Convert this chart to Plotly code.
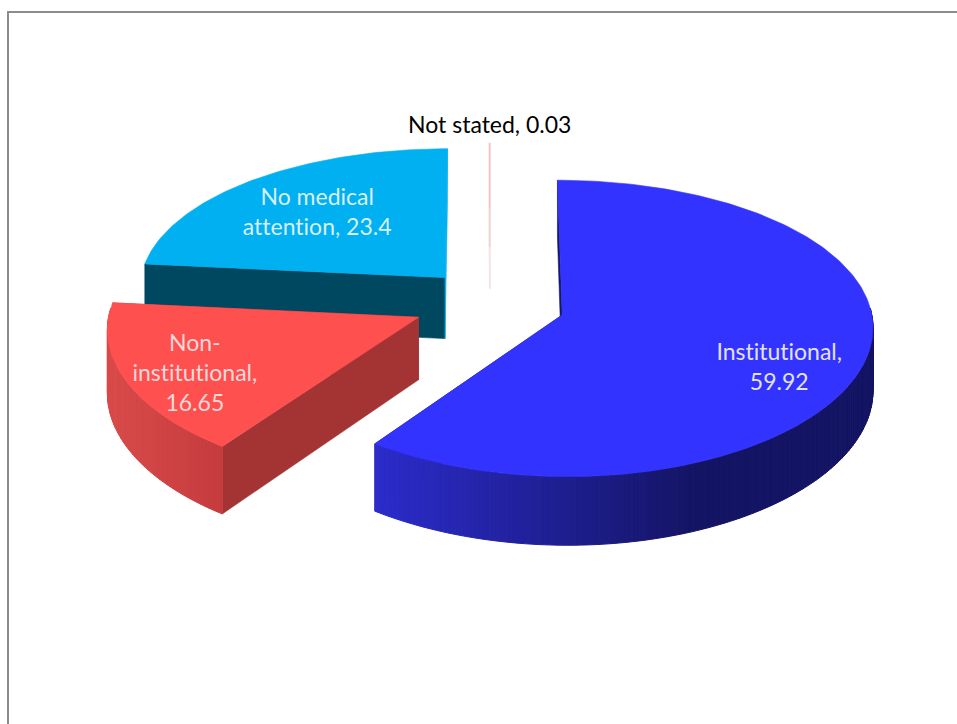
import math
import plotly.graph_objects as go

# ---- data ----
categories = ["Institutional", "Non-institutional", "No medical attention", "Not stated"]
values = [59.92, 16.65, 23.4, 0.03]
explode_x = [0.245, 0.253, 0.22, 0.225]
explode_y = [0.245, 0.22, 0.25, 0.235]
label_text = ["Institutional,<br>59.92", "Non-<br>institutional,<br>16.65",
              "No medical<br>attention, 23.4", "Not stated, 0.03"]

# ---- styling ----
label_xy = [(779, 366), (195, 372), (317, 211), (489, 124)]
label_colors = ["#E2E2FA", "#FBD8D8", "#D8EFF9", "#000000"]
face_colors = ["#3333FF", "#FF5050", "#00B0F0", "#F4C4C4"]
cut_colors = ["#16166A", "#A43434", "#00485F", "#EFE2E2"]
wall_left = [(44, 44, 205), (216, 74, 74), (0, 72, 96), (240, 226, 226)]
wall_right = [(20, 20, 100), (198, 60, 62), (0, 72, 96), (240, 226, 226)]
wall_span = [(373, 700), (115, 218), (150, 300), (0, 1)]

CX, CY, A, B, KX, KY, H = 490, 304, 308, 145, 0.07, 0.09, 62


def project(x, v, drop=0.0):
    wx = 1 / (1 - KX * v)
    wy = 1 / (1 - KY * v)
    return CX + A * x * wx, CY + B * v * wy + drop * wy


def world(theta, radius, mid, ex, ey):
    return (radius * math.sin(theta) + ex * math.sin(mid),
            -radius * math.cos(theta) - ey * math.cos(mid))


def poly(fig, pts, color, width=0.6):
    xs = [p[0] for p in pts]
    ys = [p[1] for p in pts]
    fig.add_trace(go.Scatter(x=xs + xs[:1], y=ys + ys[:1], mode="lines", fill="toself",
                             fillcolor=color, line=dict(color=color, width=width),
                             hoverinfo="skip", showlegend=False))


def mix(c0, c1, t):
    t = min(1, max(0, t))
    return "rgb(%d,%d,%d)" % tuple(round(a + (b - a) * t) for a, b in zip(c0, c1))


total = sum(values)
spans = []
angle = 0.0
for val in values:
    sweep = 2 * math.pi * val / total
    spans.append((angle, angle + sweep))
    angle += sweep

fig = go.Figure()
for idx in [2, 3, 1, 0]:
    t0, t1 = spans[idx]
    mid = (t0 + t1) / 2
    ex, ey = explode_x[idx], explode_y[idx]
    n = max(2, int((t1 - t0) / math.radians(1)))
    thetas = [t0 + (t1 - t0) * i / n for i in range(n + 1)]
    apex = world(0, 0, mid, ex, ey)
    rim = [world(th, 1, mid, ex, ey) for th in thetas]

    if idx == 3:
        top = project(*rim[n // 2])
        ap = project(*apex)
        low = project(*apex, drop=H * 0.3)
        mid1 = (top[0], top[1] + (ap[1] - top[1]) * 0.52)
        mid2 = (top[0], top[1] + (ap[1] - top[1]) * 0.82)
        for a_, b_, c_ in [(top, mid1, "#F4C4C4"), (mid1, mid2, "#EFD2D2"), (mid2, low, "#F2E4E4")]:
            fig.add_trace(go.Scatter(x=[a_[0], b_[0]], y=[a_[1], b_[1]], mode="lines",
                                     line=dict(color=c_, width=2), hoverinfo="skip",
                                     showlegend=False))
        continue

    # cut walls
    for end in (rim[0], rim[-1]):
        poly(fig, [project(*apex), project(*end), project(*end, drop=H), project(*apex, drop=H)],
             cut_colors[idx] if not (idx == 2 and end is rim[-1]) else face_colors[idx])
    # outer wall strips (only the side that faces the viewer)
    for i in range(n):
        if -math.cos(thetas[i]) < -0.05:
            continue
        a_, b_ = rim[i], rim[i + 1]
        sx = project(*a_)[0]
        lo, hi = wall_span[idx]
        poly(fig, [project(*a_), project(*b_), project(*b_, drop=H), project(*a_, drop=H)],
             mix(wall_left[idx], wall_right[idx], (sx - lo) / (hi - lo)), width=1)
    # top face
    poly(fig, [project(*apex)] + [project(*p) for p in rim], face_colors[idx])

annotations = [dict(x=x, y=y, text=t, showarrow=False, xref="x", yref="y",
                    font=dict(family="Lato, Carlito, sans-serif", size=23, color=c), align="center")
               for (x, y), t, c in zip(label_xy, label_text, label_colors)]

fig.update_layout(
    width=957, height=724, margin=dict(l=0, r=0, t=0, b=0),
    paper_bgcolor="white", plot_bgcolor="white", showlegend=False,
    xaxis=dict(range=[0, 957], visible=False, fixedrange=True),
    yaxis=dict(range=[724, 0], visible=False, fixedrange=True),
    annotations=annotations,
    shapes=[dict(type="path", path="M 8,724 L 8,12 L 957,12", xref="x", yref="y",
                 line=dict(color="#8C8C8C", width=2))],
)
fig.write_html("out.html", config={"displayModeBar": False},
               post_script="document.body.style.margin='0';document.body.style.overflow='hidden';"
                           "var s=document.createElement('style');"
                           "s.textContent='text,tspan{font-variant-ligatures:none!important;"
                           "font-feature-settings:\"liga\" 0,\"clig\" 0,\"calt\" 0!important}';"
                           "document.head.appendChild(s);")
